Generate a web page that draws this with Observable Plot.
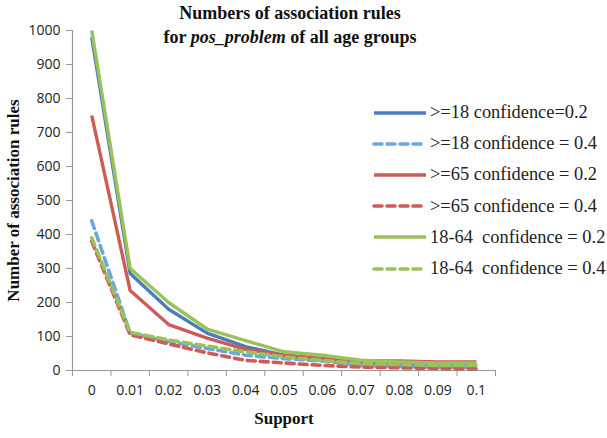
<!DOCTYPE html>
<html><head><meta charset="utf-8">
<script src="https://cdn.jsdelivr.net/npm/d3@7"></script>
<script src="https://cdn.jsdelivr.net/npm/@observablehq/plot@0.6"></script>
<style>
body{margin:0;background:#fff;}
#wrap{position:relative;width:607px;height:438px;overflow:hidden;}
#title{position:absolute;left:90px;width:400px;top:1px;text-align:center;font-family:"Liberation Serif",serif;font-weight:bold;font-size:18px;line-height:24px;color:#111;}
#legend{position:absolute;left:372px;top:97px;font-family:"Liberation Serif",serif;font-size:18.4px;color:#222;}
#legend .row{height:31.2px;display:flex;align-items:center;white-space:pre;}
#legend svg{margin-right:2px;}
</style></head>
<body><div id="wrap">
<div id="title">Numbers of association rules<br>for <i>pos_problem</i> of all age groups</div>
<div id="legend"></div>
</div>
<script>
const support = [0, 0.01, 0.02, 0.03, 0.04, 0.05, 0.06, 0.07, 0.08, 0.09, 0.1];
const supportLabels = ["0","0.01","0.02","0.03","0.04","0.05","0.06","0.07","0.08","0.09","0.1"];
const yTicks = [0,100,200,300,400,500,600,700,800,900,1000];
const seriesNames = [">=18 confidence=0.2", ">=18 confidence = 0.4", ">=65 confidence = 0.2", ">=65 confidence = 0.4", "18-64  confidence = 0.2", "18-64  confidence = 0.4"];
const ge18_c02 = [980, 285, 180, 110, 70, 45, 35, 25, 22, 20, 20];
const ge18_c04 = [440, 110, 85, 65, 45, 35, 28, 15, 12, 10, 10];
const ge65_c02 = [750, 235, 135, 95, 62, 45, 35, 28, 28, 25, 25];
const ge65_c04 = [380, 105, 78, 52, 30, 22, 15, 10, 8, 6, 5];
const a1864_c02 = [1000, 300, 200, 122, 88, 55, 45, 30, 25, 22, 22];
const a1864_c04 = [390, 112, 90, 72, 55, 40, 30, 20, 18, 15, 15];

const styles = [
  {color:"#4a7ebb", dash:null, w:3.4},
  {color:"#6aa6e0", dash:"8,5", w:3.6},
  {color:"#cd5b57", dash:null, w:3.4},
  {color:"#cd5b57", dash:"8,5", w:3.6},
  {color:"#9bc25a", dash:null, w:3.4},
  {color:"#9bc25a", dash:"8,5", w:3.6}
];
const allSeries = [ge18_c02, ge18_c04, ge65_c02, ge65_c04, a1864_c02, a1864_c04];
const drawOrder = [0,1,2,3,4,5];
const half = 0.005;
const boundaries = support.map(s => s - half).concat([support[support.length-1] + half]);

const lineMarks = drawOrder.map(i => {
  const data = support.map((s, j) => ({s, v: allSeries[i][j]}));
  return Plot.line(data, {x:"s", y:"v", stroke: styles[i].color, strokeWidth: styles[i].w,
    strokeDasharray: styles[i].dash || undefined, strokeLinejoin:"round", strokeLinecap: styles[i].dash ? "round" : "butt"});
});

const chart = Plot.plot({
  width: 607, height: 438,
  marginLeft: 72, marginRight: 112, marginTop: 30, marginBottom: 68,
  style: {fontFamily: "'Open Sans', sans-serif", fontSize: "13px", color: "#222", background: "#fff"},
  x: {type: "linear", domain: [boundaries[0], boundaries[boundaries.length-1]]},
  y: {domain: [0, 1000]},
  marks: [
    Plot.axisY({ticks: yTicks, tickSize: 6, tickPadding: 6, stroke: "#999", label: null, fontSize: 14, tickFormat: d3.format("d")}),
    Plot.axisX({ticks: boundaries, tickSize: 6, stroke: "#999", tickFormat: () => "", label: null}),
    Plot.axisX({ticks: support, tickSize: 0, tickPadding: 15, tickFormat: (d) => supportLabels[support.indexOf(d)] ?? "", label: null, fontSize: 14}),
    Plot.ruleY([0], {stroke: "#999", strokeWidth: 1.2}),
    Plot.ruleX([boundaries[0]], {stroke: "#999", strokeWidth: 1.2}),
    ...lineMarks,
    Plot.text(["Support"], {frameAnchor: "bottom", dy: 53, fontFamily: "'Liberation Serif', serif", fontWeight: "bold", fontSize: 17, fill: "#111"}),
    Plot.text(["Number of association rules"], {frameAnchor: "left", dx: -59, rotate: -90, textAnchor: "middle", fontFamily: "'Liberation Serif', serif", fontWeight: "bold", fontSize: 17, fill: "#111"})
  ]
});
chart.style.position = "absolute";
chart.style.left = "0"; chart.style.top = "0";
const wrap = document.getElementById("wrap");
wrap.insertBefore(chart, wrap.firstChild);

const legend = document.getElementById("legend");
seriesNames.forEach((name, i) => {
  const row = document.createElement("div");
  row.className = "row";
  const st = styles[i];
  row.innerHTML = `<svg width="56" height="8"><line x1="2" y1="4" x2="54" y2="4" stroke="${st.color}" stroke-width="${st.w}" ${st.dash ? `stroke-dasharray="${st.dash}" stroke-linecap="round"` : ""}/></svg><span>${name.replace(/</g,"&lt;").replace(/>/g,"&gt;")}</span>`;
  legend.appendChild(row);
});
</script>
</body></html>
